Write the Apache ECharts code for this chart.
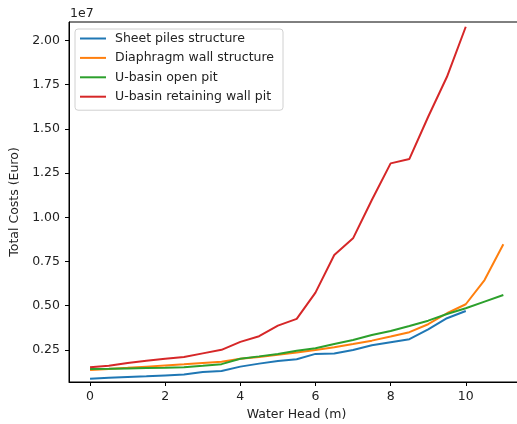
<!DOCTYPE html>
<html>
<head>
<meta charset="utf-8">
<script src="https://cdn.jsdelivr.net/npm/echarts@6/dist/echarts.min.js"></script>
<style>
  html, body { margin: 0; padding: 0; background: #fff; }
  #chart { width: 517px; height: 424px; }
</style>
</head>
<body>
<div id="chart"></div>
<script>
// water head (m), one entry every 0.5 m
const waterHead = [0, 0.5, 1, 1.5, 2, 2.5, 3, 3.5, 4, 4.5, 5, 5.5, 6, 6.5, 7, 7.5, 8, 8.5, 9, 9.5, 10, 10.5, 11];

// total costs in units of 1e7 Euro
const sheetPiles = [0.087, 0.092, 0.096, 0.100, 0.105, 0.110, 0.125, 0.130, 0.155, 0.172, 0.187,
  0.197, 0.227, 0.229, 0.249, 0.276, 0.293, 0.310, 0.366, 0.429, 0.470];
const diaphragmWall = [0.136, 0.142, 0.148, 0.155, 0.162, 0.168, 0.175, 0.182, 0.200, 0.210, 0.222,
  0.235, 0.249, 0.265, 0.283, 0.302, 0.325, 0.350, 0.395, 0.457, 0.508, 0.645, 0.847];
const openPit = [0.142, 0.143, 0.145, 0.147, 0.149, 0.152, 0.160, 0.169, 0.200, 0.213, 0.227,
  0.245, 0.259, 0.283, 0.306, 0.334, 0.357, 0.385, 0.415, 0.453, 0.485, 0.523, 0.560];
const retainingWallPit = [0.152, 0.160, 0.175, 0.188, 0.200, 0.210, 0.230, 0.250, 0.295, 0.327, 0.387,
  0.425, 0.574, 0.787, 0.881, 1.098, 1.305, 1.330, 1.569, 1.795, 2.078];

const seriesNames = ['Sheet piles structure', 'Diaphragm wall structure', 'U-basin open pit', 'U-basin retaining wall pit'];
const colors = ['#1f77b4', '#ff7f0e', '#2ca02c', '#d62728'];

const xTicks = [0, 2, 4, 6, 8, 10];
const yTicks = [0.25, 0.50, 0.75, 1.00, 1.25, 1.50, 1.75, 2.00];

const toPairs = vals => vals.map((v, i) => [waterHead[i], v * 1e7]);

const font = 'DejaVu Sans';
const chart = echarts.init(document.getElementById('chart'));

chart.setOption({
  animation: false,
  textStyle: { fontFamily: font },
  grid: {
    left: 69, top: 22, width: 455, height: 360,
    outerBoundsMode: 'none',
    containLabel: false,
    show: true, borderColor: '#000', borderWidth: 1
  },
  legend: {
    orient: 'vertical',
    left: 75, top: 29,
    padding: [2, 9, 6, 5],
    itemGap: 4.4,
    itemWidth: 26,
    itemHeight: 2,
    icon: 'rect',
    borderColor: '#d0d0d0',
    borderWidth: 1,
    borderRadius: 3,
    backgroundColor: 'rgba(255,255,255,0.8)',
    textStyle: { fontFamily: font, fontSize: 12.5, color: '#222', lineHeight: 15, padding: [0, 0, 0, 4] },
    data: seriesNames
  },
  xAxis: {
    type: 'value',
    min: -0.56, max: 11.55,
    name: 'Water Head (m)',
    nameLocation: 'middle',
    nameGap: 24,
    nameTextStyle: { fontFamily: font, fontSize: 12.5, color: '#222' },
    splitLine: { show: false },
    axisLine: { onZero: false, lineStyle: { color: '#000', width: 1 } },
    axisTick: { show: true, length: 4, lineStyle: { color: '#000' }, customValues: xTicks },
    axisLabel: {
      fontFamily: font, fontSize: 12.5, color: '#222', margin: 8,
      customValues: xTicks,
      formatter: v => String(v)
    }
  },
  yAxis: {
    type: 'value',
    min: 0.068e7, max: 2.105e7,
    name: 'Total Costs (Euro)',
    nameLocation: 'middle',
    nameGap: 42,
    nameTextStyle: { fontFamily: font, fontSize: 12.5, color: '#222' },
    splitLine: { show: false },
    axisLine: { show: true, onZero: false, lineStyle: { color: '#000', width: 1 } },
    axisTick: { show: true, length: 4, lineStyle: { color: '#000' }, customValues: yTicks.map(t => t * 1e7) },
    axisLabel: {
      fontFamily: font, fontSize: 12.5, color: '#222', margin: 9,
      customValues: yTicks.map(t => t * 1e7),
      formatter: v => (v / 1e7).toFixed(2)
    }
  },
  graphic: [{
    type: 'text',
    left: 70, top: 7,
    style: { text: '1e7', font: '12.5px "DejaVu Sans"', fill: '#222' }
  }],
  series: [sheetPiles, diaphragmWall, openPit, retainingWallPit].map((vals, i) => ({
    name: seriesNames[i],
    type: 'line',
    data: toPairs(vals),
    showSymbol: false,
    color: colors[i],
    lineStyle: { width: 2, color: colors[i] },
    emphasis: { disabled: true }
  }))
});
</script>
</body>
</html>
